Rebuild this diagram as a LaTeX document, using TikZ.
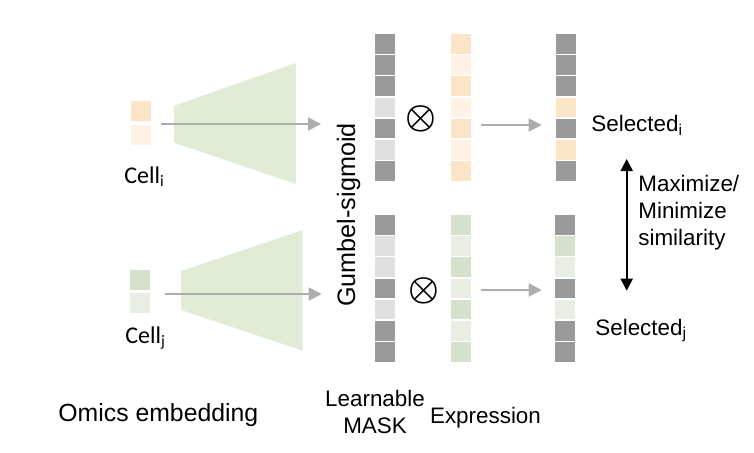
\documentclass[tikz,border=0pt]{standalone}
\usepackage{fontspec}
\setmainfont{Liberation Sans}
\newfontfamily\calibri{Carlito}
\usetikzlibrary{arrows.meta,positioning}
\definecolor{maskdark}{HTML}{9A9A9A}
\definecolor{masklight}{HTML}{E0E0E0}
\definecolor{exporange}{HTML}{FCE5C7}
\definecolor{expltorange}{HTML}{FDF2E4}
\definecolor{expgreen}{HTML}{D4E1CB}
\definecolor{expltgreen}{HTML}{E8EEE4}
\definecolor{encgreen}{HTML}{E1ECD6}
\definecolor{flowgray}{HTML}{ADADAD}

\begin{document}
\begin{tikzpicture}[x=0.5pt, y=-0.5pt,
    sq/.style={minimum width=10pt, minimum height=9.75pt, inner sep=0, outer sep=0},
    cellsq/.style={minimum width=10pt, minimum height=10pt, inner sep=0},
    flow/.style={-{Triangle[length=6.5pt,width=6.5pt]}, flowgray, line width=0.9pt},
    lbl/.style={font=\fontsize{11.2}{13.4}\selectfont, inner sep=0},
    prod/.style={inner sep=0, font=\fontsize{17.28}{17.28}\selectfont\boldmath}
]
    \useasboundingbox (0,0) rectangle (754,452);

    % Encoders
    \fill[encgreen] (174,105.7) -- (296,63) -- (296,184) -- (174,142.7) -- cycle;
    \fill[encgreen] (181,271) -- (302.7,230) -- (302.7,350.7) -- (181,310) -- cycle;

    % Cell embeddings
    \node[cellsq, fill=exporange] (ci1) at (141,111.3) {};
    \node[cellsq, fill=expltorange] (ci2) at (141,135) {};
    \node[cellsq, fill=expgreen] (cj1) at (140,280.3) {};
    \node[cellsq, fill=expltgreen] (cj2) at (140,303) {};
    \node[anchor=base west, inner sep=0, font=\calibri\fontsize{12}{14}\selectfont] (celli) at (124,183) {Cell\textsubscript{i}};
    \node[anchor=base west, inner sep=0, font=\calibri\fontsize{12}{14}\selectfont] (cellj) at (125,343) {Cell\textsubscript{j}};

    % Encoder arrows
    \coordinate (ini) at (161,124);
    \coordinate (outi) at (321,124);
    \coordinate (inj) at (165,294);
    \coordinate (outj) at (321.7,294);
    \draw[flow] (ini) -- (outi);
    \draw[flow] (inj) -- (outj);

    \node[rotate=90, anchor=base, inner sep=0, font=\fontsize{12.6}{14}\selectfont] (gumbel) at (355,215) {Gumbel-sigmoid};

    % Mask, expression and selected columns (cell i)
    \foreach \k/\m/\e/\s in {0/maskdark/exporange/maskdark, 1/maskdark/expltorange/maskdark,
                             2/maskdark/exporange/maskdark, 3/masklight/expltorange/exporange,
                             4/maskdark/exporange/maskdark, 5/masklight/expltorange/exporange,
                             6/maskdark/exporange/maskdark} {
        \node[sq, fill=\m] (mi\k) at (385, 43.8+21.2*\k) {};
        \node[sq, fill=\e] (ei\k) at (461, 43.8+21.2*\k) {};
        \node[sq, fill=\s] (si\k) at (566, 43.8+21.2*\k) {};
    }

    % Mask, expression and selected columns (cell j)
    \foreach \k/\m/\e/\s in {0/maskdark/expgreen/maskdark, 1/masklight/expltgreen/expgreen,
                             2/masklight/expgreen/expltgreen, 3/maskdark/expltgreen/maskdark,
                             4/masklight/expgreen/expltgreen, 5/maskdark/expltgreen/maskdark,
                             6/maskdark/expgreen/maskdark} {
        \node[sq, fill=\m] (mj\k) at (385, 224.8+21.2*\k) {};
        \node[sq, fill=\e] (ej\k) at (461, 224.8+21.2*\k) {};
        \node[sq, fill=\s] (sj\k) at (564.5, 224.8+21.2*\k) {};
    }

    % Products
    \node[prod] (timesi) at (421,119) {$\otimes$};
    \node[prod] (timesj) at (424,290.7) {$\otimes$};

    \coordinate (fromi) at (481,125);
    \coordinate (toi) at (541.7,125);
    \coordinate (fromj) at (481,290);
    \coordinate (toj) at (541.7,290);
    \draw[flow] (fromi) -- (toi);
    \draw[flow] (fromj) -- (toj);

    % Labels (base of a multi-line node is its last line)
    \node[lbl, anchor=base west] (seli) at (591,131.7) {Selected\textsubscript{i}};
    \node[lbl, anchor=base west] (selj) at (595,335) {Selected\textsubscript{j}};
    \node[lbl, align=left, anchor=base west] (sim) at (638,245) {Maximize/\\Minimize\\similarity};
    \node[lbl, align=center, anchor=base] (mask) at (375,433) {Learnable\\MASK};
    \node[lbl, anchor=base] (expr) at (485.5,423) {Expression};
    \node[anchor=base west, inner sep=0, font=\fontsize{12.4}{14}\selectfont] (omics) at (58,421.7) {Omics embedding};

    % Similarity arrow
    \coordinate (simtop) at (626.7,159);
    \coordinate (simbot) at (626.7,290.7);
    \draw[{Triangle[length=6pt,width=6pt]}-{Triangle[length=6pt,width=6pt]}, line width=1pt] (simtop) -- (simbot);
\end{tikzpicture}
\end{document}
